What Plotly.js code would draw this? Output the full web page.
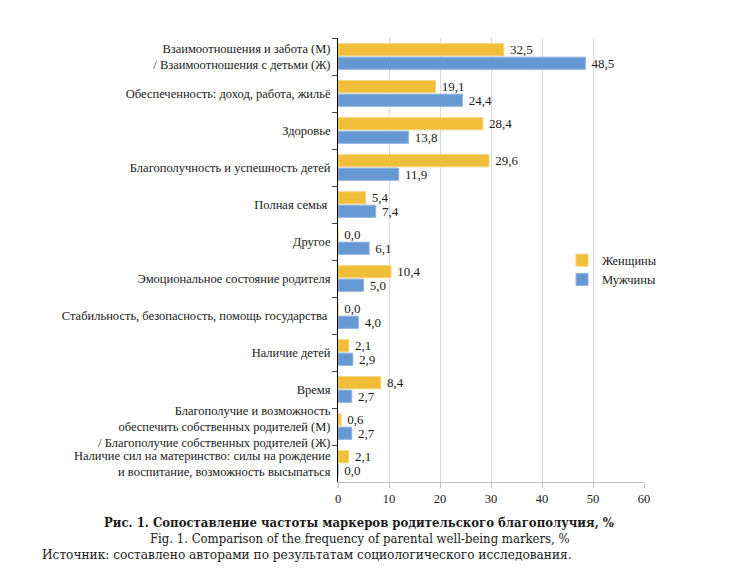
<!DOCTYPE html>
<html>
<head>
<meta charset="utf-8">
<script src="https://cdn.plot.ly/plotly-3.0.1.min.js"></script>
<style>html,body{margin:0;padding:0;background:#fff;}#chart{width:729px;height:584px;}</style>
</head>
<body>
<div id="chart"></div>
<script>
var categories = [
  "Взаимоотношения и забота (М)<br>/ Взаимоотношения с детьми (Ж)",
  "Обеспеченность: доход, работа, жильё",
  "Здоровье",
  "Благополучность и успешность детей",
  "Полная семья ",
  "Другое",
  "Эмоциональное состояние родителя",
  "Стабильность, безопасность, помощь государства ",
  "Наличие детей",
  "Время",
  "Благополучие и возможность<br>обеспечить собственных родителей (М)<br>/ Благополучие собственных родителей (Ж)",
  "Наличие сил на материнство: силы на рождение<br>и воспитание, возможность высыпаться"
];
var women = [32.5, 19.1, 28.4, 29.6, 5.4, 0.0, 10.4, 0.0, 2.1, 8.4, 0.6, 2.1];
var men   = [48.5, 24.4, 13.8, 11.9, 7.4, 6.1, 5.0, 4.0, 2.9, 2.7, 2.7, 0.0];
var seriesNames = ["Женщины", "Мужчины"];
var xTicks = [0, 10, 20, 30, 40, 50, 60];

function fmt(v){ return "\u00a0" + v.toFixed(1).replace('.', ','); }

var SERIF = "Liberation Serif";
var CAP = "DejaVu Serif Condensed";
var labelFont = {family: SERIF, size: 13, color: "#1a1a1a"};

var traces = [
  {
    type: "bar", orientation: "h", name: seriesNames[0],
    y: categories, x: women,
    text: women.map(fmt), textposition: "outside", cliponaxis: false, constraintext: "none",
    textfont: labelFont,
    marker: {color: "#F0BE38", line: {color: "#F5D27A", width: 1}}
  },
  {
    type: "bar", orientation: "h", name: seriesNames[1],
    y: categories, x: men,
    text: men.map(fmt), textposition: "outside", cliponaxis: false, constraintext: "none",
    textfont: labelFont,
    marker: {color: "#6699D2", line: {color: "#8DB3E0", width: 1}}
  }
];

var layout = {
  width: 729, height: 584,
  margin: {l: 338, r: 85, t: 38, b: 102},
  paper_bgcolor: "#fff", plot_bgcolor: "#fff",
  barmode: "group", bargap: 0.27, bargroupgap: 0.1,
  font: {family: SERIF, size: 12.5, color: "#1a1a1a"},
  showlegend: true,
  legend: {x: (562 - 338) / 306, y: (482 - 270) / 444, xanchor: "left", yanchor: "middle",
    font: {family: SERIF, size: 12.5, color: "#1a1a1a"},
    itemwidth: 30, tracegroupgap: 2, bgcolor: "rgba(0,0,0,0)"},
  xaxis: {
    range: [0, 60], tickvals: xTicks, ticktext: xTicks.map(String),
    showgrid: true, gridcolor: "#D9D9D9", gridwidth: 1,
    zeroline: false, showline: true, linecolor: "#BFBFBF", linewidth: 1,
    ticks: "outside", ticklen: 5, tickcolor: "#BFBFBF",
    tickfont: {family: SERIF, size: 12.5, color: "#1a1a1a"},
    fixedrange: true
  },
  yaxis: {
    type: "category", autorange: "reversed",
    showline: true, linecolor: "#000", linewidth: 1,
    ticks: "outside", ticklen: 5, tickcolor: "#444", tickson: "boundaries",
    tickfont: {family: SERIF, size: 12.5, color: "#1a1a1a"},
    showgrid: false, fixedrange: true, ticklabelstandoff: 4
  },
  annotations: [
    {xref: "paper", yref: "paper", x: (359 - 338) / 306, y: -(522 - 482) / 444, xanchor: "center", yanchor: "middle",
     text: "<b>Рис. 1. Сопоставление частоты маркеров родительского благополучия, %</b>",
     showarrow: false, font: {family: CAP, size: 13, color: "#1a1a1a"}},
    {xref: "paper", yref: "paper", x: (360 - 338) / 306, y: -(538 - 482) / 444, xanchor: "center", yanchor: "middle",
     text: "Fig. 1. Comparison of the frequency of parental well-being markers, %",
     showarrow: false, font: {family: CAP, size: 13, color: "#1a1a1a"}},
    {xref: "paper", yref: "paper", x: (40 - 338) / 306, y: -(554 - 482) / 444, xanchor: "left", yanchor: "middle",
     text: "Источник: составлено авторами по результатам социологического исследования.",
     showarrow: false, font: {family: CAP, size: 13.5, color: "#1a1a1a"}}
  ]
};

Plotly.newPlot("chart", traces, layout, {displayModeBar: false, staticPlot: true});
</script>
</body>
</html>
